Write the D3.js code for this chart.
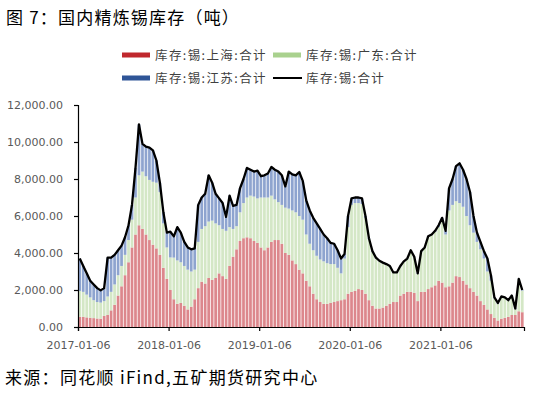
<!DOCTYPE html>
<html><head><meta charset="utf-8">
<script src="https://cdn.jsdelivr.net/npm/d3@7"></script>
<style>body{margin:0;background:#fff}svg{display:block}</style>
</head><body>
<svg id="c" width="542" height="397"></svg>
<script>
// biweekly samples, 2017-01-06 .. late 2021 (tons)
const shanghai = [550,550,520,500,480,460,450,600,650,900,1200,1700,2200,2800,3500,4300,5000,5500,5300,5000,4700,4450,4250,3900,3200,2600,
2000,1500,1250,1300,1150,950,1100,1500,2100,2450,2350,2650,2550,2650,2900,2750,2600,3300,3800,4200,4650,4800,4850,4800,4650,4550,
4300,4150,4300,4600,4700,4700,4500,4000,3900,3600,3400,3100,2900,2500,2200,1800,1500,1350,1250,1250,1300,1350,1400,1450,1500,1800,
1900,1950,2050,2000,1800,1450,1150,1000,1000,1050,1150,1250,1350,1350,1700,1800,1900,1900,1850,1400,1900,1900,2050,2150,2250,2500,
2400,2150,2200,2400,2750,2700,2500,2300,2100,1900,1700,1400,1200,950,700,500,350,450,500,550,650,650,850,800];
const guangdong = [1400,1350,1230,1100,970,890,870,800,1000,1000,1100,1100,1100,1100,1200,1500,2000,2700,3100,3150,3250,3400,3550,3400,2400,1700,
1760,2250,2350,2200,2150,2150,1900,1600,2500,2850,3100,3050,3200,2950,2600,2550,2600,2100,1500,1250,1550,1900,2150,2300,2400,2400,
2700,2850,2700,2500,2200,2050,2100,2450,2500,2700,2800,2900,2900,2500,2300,2350,2350,2300,2300,2200,2100,2050,1800,1450,2200,3600,
4700,4750,4650,4650,4100,3300,2920,2720,2550,2400,2220,2020,1570,1570,1570,1720,1770,2220,1920,1470,2170,2370,2820,2820,2900,2900,
3300,2850,4100,4200,4050,4000,4000,3700,3400,3200,2900,2800,2500,2050,1800,1050,920,1170,1070,870,1020,320,1720,1170];
const jiangsu = [1750,1400,1150,900,850,750,660,700,2100,1850,1600,1350,1100,950,800,800,1600,2750,1500,1600,1750,1700,1200,500,600,800,
1390,1150,1800,1600,1300,1200,1200,1150,2000,1700,1750,2500,2050,1600,1450,1400,750,1700,1250,1150,1300,1300,1600,1400,1350,1500,
1150,1200,1300,1550,1600,1650,1600,1150,2000,1950,2000,2380,2100,1850,1800,1750,1750,1650,1450,1350,1150,1100,950,800,250,600,
350,300,300,300,100,50,30,30,30,30,30,30,30,30,30,30,30,30,30,30,30,30,30,30,50,100,
200,200,1200,1400,1900,2150,2000,2000,1800,900,500,400,400,700,300,50,30,30,30,30,30,30,30,30];
const tickLabels = ["2017-01-06","2018-01-06","2019-01-06","2020-01-06","2021-01-06"];
const tickIndex = [0,26,52,78,104];
const yTicks = [0,2000,4000,6000,8000,10000,12000];
const seriesNames = ["库存:锡:上海:合计","库存:锡:广东:合计","库存:锡:江苏:合计","库存:锡:合计"];
const barColors = ["#dc878c","#d4e7c6","#8ea4cf"];
const legendColors = ["#c0282d","#a9d18e","#2f5597","#000000"];

const N = shanghai.length;
const rows = d3.range(N).map(i => ({i, s: shanghai[i], g: guangdong[i], j: jiangsu[i]}));
const totals = rows.map(r => r.s + r.g + r.j);

const svg = d3.select("#c");
const L = 78, R = 524, T0 = 105, B = 327;
const x = d3.scaleBand().domain(d3.range(N)).range([L, R]).paddingInner(0.22).paddingOuter(0.11);
const xl = d3.scaleLinear().domain([0, N]).range([L, R]);
const y = d3.scaleLinear().domain([0, 12000]).range([B, T0]);

const stack = d3.stack().keys(["s","g","j"])(rows);
svg.append("g").selectAll("g").data(stack).join("g")
  .attr("fill", (d, k) => barColors[k])
  .selectAll("rect").data(d => d).join("rect")
  .attr("x", d => x(d.data.i)).attr("width", x.bandwidth())
  .attr("y", d => y(d[1])).attr("height", d => y(d[0]) - y(d[1]));

svg.append("path").datum(totals)
  .attr("fill","none").attr("stroke","#000").attr("stroke-width",2.3).attr("stroke-linejoin","round")
  .attr("d", d3.line().x((d,i) => x(i) + x.bandwidth()/2).y(d => y(d)));

const ya = svg.append("g").attr("transform",`translate(${L},0)`)
  .call(d3.axisLeft(y).tickValues(yTicks).tickFormat(d3.format(",.2f")).tickSize(4).tickPadding(11));
const xa = svg.append("g").attr("transform",`translate(0,${B})`)
  .call(d3.axisBottom(xl).tickValues(tickIndex).tickFormat((d,i) => tickLabels[i]).tickSize(4).tickPadding(10));
[ya, xa].forEach(a => {
  a.select(".domain").attr("stroke","#000").attr("stroke-width",1.2);
  a.selectAll(".tick line").attr("stroke","#000").attr("stroke-width",1.2);
  a.selectAll(".tick text").attr("fill","#595959").attr("font-family","DejaVu Sans, sans-serif").attr("font-size","11px");
});

// legend
const leg = [{x:122,y:55},{x:273,y:55},{x:122,y:78},{x:273,y:78}];
seriesNames.forEach((n,k) => {
  const p = leg[k];
  if (k < 3) svg.append("rect").attr("x",p.x).attr("y",p.y-2.5).attr("width",28).attr("height",5).attr("fill",legendColors[k]);
  else svg.append("line").attr("x1",p.x).attr("x2",p.x+29).attr("y1",p.y).attr("y2",p.y).attr("stroke","#000").attr("stroke-width",2);
  svg.append("text").attr("x",p.x+33).attr("y",p.y).attr("dy","0.36em")
    .attr("font-family","Noto Sans CJK SC, sans-serif").attr("font-size","12.5px").attr("fill","#404040")
    .attr("letter-spacing","1.4px").text(n);
});

svg.append("text").attr("x",6).attr("y",24).attr("font-family","Noto Sans CJK SC, sans-serif")
  .attr("font-size","17px").attr("fill","#000").attr("letter-spacing","1.2px").text("图 7：国内精炼锡库存（吨）");
svg.append("text").attr("x",5).attr("y",384).attr("font-family","Noto Sans CJK SC, sans-serif")
  .attr("font-size","17px").attr("fill","#000").attr("letter-spacing","1.3px").text("来源：同花顺 iFind,五矿期货研究中心");
</script>
</body></html>
